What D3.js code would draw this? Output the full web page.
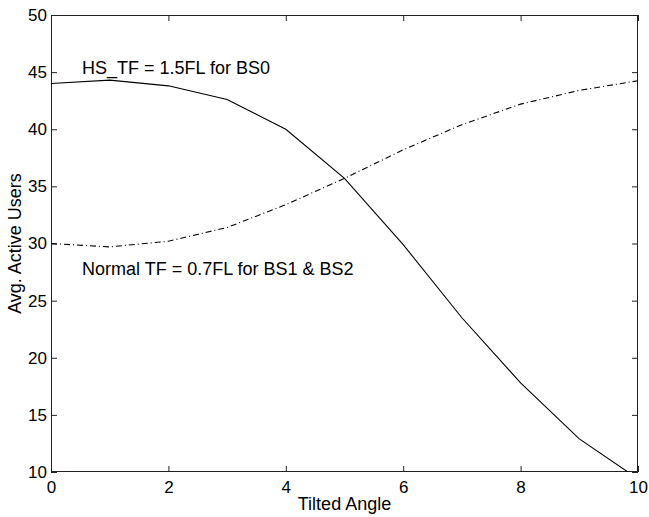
<!DOCTYPE html>
<html><head><meta charset="utf-8">
<script src="https://cdn.jsdelivr.net/npm/d3@7"></script>
<style>body{margin:0;background:#fff;}svg{display:block;}text{font-family:"Liberation Sans",Arial,sans-serif;fill:#000;}</style>
</head><body>
<svg id="c" width="649" height="517"></svg>
<script>
const angles = [0,1,2,3,4,5,6,7,8,9,10];
const hsValues = [44.0,44.3,43.8,42.6,40.0,35.7,29.9,23.5,17.8,12.9,9.4];
const normalValues = [30.0,29.7,30.2,31.4,33.4,35.7,38.2,40.4,42.2,43.4,44.25];
const xTicks = [0,2,4,6,8,10];
const yTicks = [10,15,20,25,30,35,40,45,50];
const labels = ["HS_TF = 1.5FL for BS0","Normal TF = 0.7FL for BS1 & BS2"];

const svg = d3.select("#c");
const L=51, R=638, T=15, B=472;
const x = d3.scaleLinear().domain([0,10]).range([L,R]);
const y = d3.scaleLinear().domain([10,50]).range([B,T]);
const fsTick = 17, fsLab = 18;

svg.append("defs").append("clipPath").attr("id","clip")
  .append("rect").attr("x",L).attr("y",T).attr("width",R-L).attr("height",B-T);

svg.append("rect").attr("x",L+0.5).attr("y",T+0.5).attr("width",R-L-1).attr("height",B-T-1)
  .attr("fill","none").attr("stroke","#222").attr("stroke-width",1);

const tl = 6;
const gx = svg.append("g").attr("transform",`translate(0,${B})`)
  .call(d3.axisBottom(x).tickValues(xTicks).tickSize(-tl).tickPadding(9).tickFormat(d3.format("d")));
const gxt = svg.append("g").attr("transform",`translate(0,${T})`)
  .call(d3.axisTop(x).tickValues(xTicks).tickSize(-tl).tickFormat(""));
const gy = svg.append("g").attr("transform",`translate(${L},0)`)
  .call(d3.axisLeft(y).tickValues(yTicks).tickSize(-tl).tickPadding(4).tickFormat(d3.format("d")));
const gyr = svg.append("g").attr("transform",`translate(${R},0)`)
  .call(d3.axisRight(y).tickValues(yTicks).tickSize(-tl).tickFormat(""));
[gx,gxt,gy,gyr].forEach(g=>{
  g.select(".domain").remove();
  g.selectAll(".tick line").attr("stroke","#222");
  g.selectAll("text").style("font-size",fsTick+"px").style("font-family","Liberation Sans, Arial, sans-serif").attr("fill","#000");
});

const line = d3.line().x((d,i)=>x(angles[i])).y(d=>y(d));
const plot = svg.append("g").attr("clip-path","url(#clip)");
plot.append("path").datum(hsValues).attr("d",line).attr("fill","none").attr("stroke","#000").attr("stroke-width",1.1);
plot.append("path").datum(normalValues).attr("d",line).attr("fill","none").attr("stroke","#000").attr("stroke-width",1.1)
  .attr("stroke-dasharray","6,3,1,3");

svg.append("text").attr("x",82).attr("y",74).style("font-size",fsLab+"px").text(labels[0]);
svg.append("text").attr("x",82).attr("y",275).style("font-size",fsLab+"px").text(labels[1]);

svg.append("text").attr("x",(L+R)/2).attr("y",510).attr("text-anchor","middle").style("font-size",fsLab+"px").text("Tilted Angle");
svg.append("text").attr("transform",`translate(21,${(T+B)/2}) rotate(-90)`).attr("text-anchor","middle").style("font-size",fsLab+"px").text("Avg. Active Users");
</script>
</body></html>
